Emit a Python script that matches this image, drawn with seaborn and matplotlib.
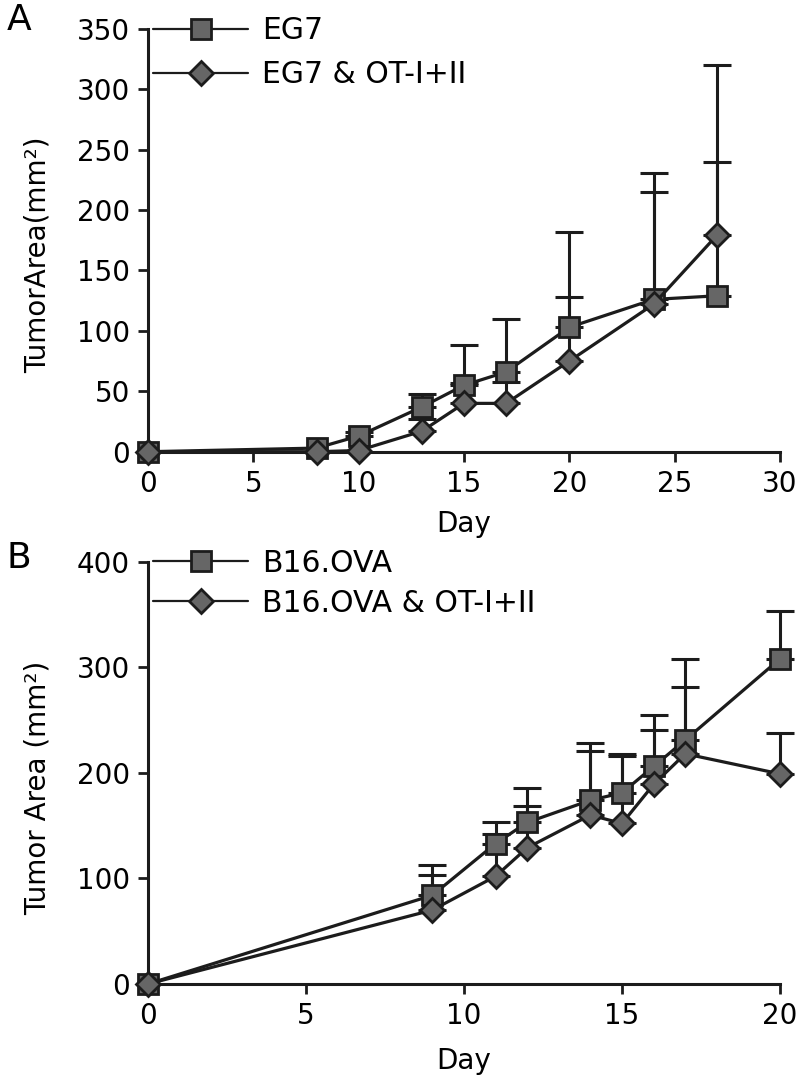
import numpy as np
import pandas as pd
import seaborn as sns
import matplotlib.pyplot as plt

# ---- data ----
days_a = [0, 8, 10, 13, 15, 17, 20, 24, 27]
eg7 = [0, 3, 13, 37, 55, 66, 103, 126, 129]
eg7_err = [0, 0, 3, 11, 33, 44, 79, 105, 111]
eg7_ot = [0, 0, 1, 17, 40, 40, 75, 122, 179]
eg7_ot_err = [0, 0, 0, 10, 17, 18, 53, 93, 141]

days_b = [0, 9, 11, 12, 14, 15, 16, 17, 20]
b16 = [0, 84, 133, 153, 174, 181, 206, 231, 308]
b16_err = [0, 29, 20, 33, 54, 35, 49, 77, 45]
b16_ot = [0, 70, 102, 129, 160, 152, 189, 218, 199]
b16_ot_err = [0, 33, 40, 40, 61, 66, 52, 63, 39]

labels_a = ["EG7", "EG7 & OT-I+II"]
labels_b = ["B16.OVA", "B16.OVA & OT-I+II"]
xticks_a = [0, 5, 10, 15, 20, 25, 30]
yticks_a = [0, 50, 100, 150, 200, 250, 300, 350]
xticks_b = [0, 5, 10, 15, 20]
yticks_b = [0, 100, 200, 300, 400]

sns.set_theme(style="ticks")
plt.rcParams["font.family"] = ["DejaVu Sans"]

INK = "#1c1c1c"
FILL = "#666666"
FS = 20
LFS = 21.5

fig = plt.figure(figsize=(8, 10.75), dpi=100)
axA = fig.add_axes([0.185, 0.5798, 0.79, 0.3935])
axB = fig.add_axes([0.185, 0.0847, 0.79, 0.3928])


def panel(ax, days, s1, e1, s2, e2, labels, xt, yt, ylab, leg_y, leg_sp, xlpad):
    df = pd.DataFrame({"Day": days + days,
                       "Area": s1 + s2,
                       "Group": [labels[0]] * len(days) + [labels[1]] * len(days)})
    # error bars (upper only)
    for vals, errs in ((s1, e1), (s2, e2)):
        d = np.array(days, float)
        v = np.array(vals, float)
        e = np.array(errs, float)
        m = e > 0
        cont = ax.errorbar(d[m], v[m], yerr=[np.zeros(m.sum()), e[m]], fmt="none",
                           ecolor=INK, elinewidth=2.2, capsize=10, capthick=2.2,
                           zorder=2)
        for art in cont.get_children():
            art.set_clip_on(False)
    sns.lineplot(data=df[df["Group"] == labels[0]], x="Day", y="Area", ax=ax,
                 color=INK, lw=2.3, marker="s", markersize=14,
                 markerfacecolor=FILL, markeredgecolor=INK, markeredgewidth=2.0,
                 label=labels[0], clip_on=False, zorder=4, errorbar=None)
    sns.lineplot(data=df[df["Group"] == labels[1]], x="Day", y="Area", ax=ax,
                 color=INK, lw=2.3, marker="D", markersize=12.5,
                 markerfacecolor=FILL, markeredgecolor=INK, markeredgewidth=2.0,
                 label=labels[1], clip_on=False, zorder=5, errorbar=None)
    ax.set_xlim(xt[0], xt[-1])
    ax.set_ylim(yt[0], yt[-1])
    ax.set_xticks(xt)
    ax.set_yticks(yt)
    sns.despine(ax=ax)
    for sp in ("left", "bottom"):
        ax.spines[sp].set_linewidth(2.2)
        ax.spines[sp].set_color(INK)
    ax.tick_params(direction="out", length=7, width=2, color=INK,
                   labelsize=FS, labelcolor="black", pad=6)
    ax.set_xlabel("Day", fontsize=FS, color="black", labelpad=xlpad)
    ax.set_ylabel(ylab, fontsize=FS, color="black")
    ax.yaxis.set_label_coords(-0.153, 0.465)
    leg = ax.legend(loc="upper left", bbox_to_anchor=(0.191, leg_y),
                    bbox_transform=fig.transFigure, frameon=False, fontsize=LFS,
                    handlelength=3.2, handletextpad=0.45, labelspacing=leg_sp,
                    borderpad=0, borderaxespad=0, numpoints=1, labelcolor="black")
    for ln in leg.get_lines():
        ln.set_linewidth(1.6)


panel(axA, days_a, eg7, eg7_err, eg7_ot, eg7_ot_err, labels_a,
      xticks_a, yticks_a, "TumorArea(mm²)", 0.985, 0.5, 9)
panel(axB, days_b, b16, b16_err, b16_ot, b16_ot_err, labels_b,
      xticks_b, yticks_b, "Tumor Area (mm²)", 0.4897, 0.38, 12)

fig.text(0.008, 0.997, "A", fontsize=26, va="top", ha="left", color="black")
fig.text(0.008, 0.497, "B", fontsize=26, va="top", ha="left", color="black")

fig.savefig("out.png", dpi=100)
